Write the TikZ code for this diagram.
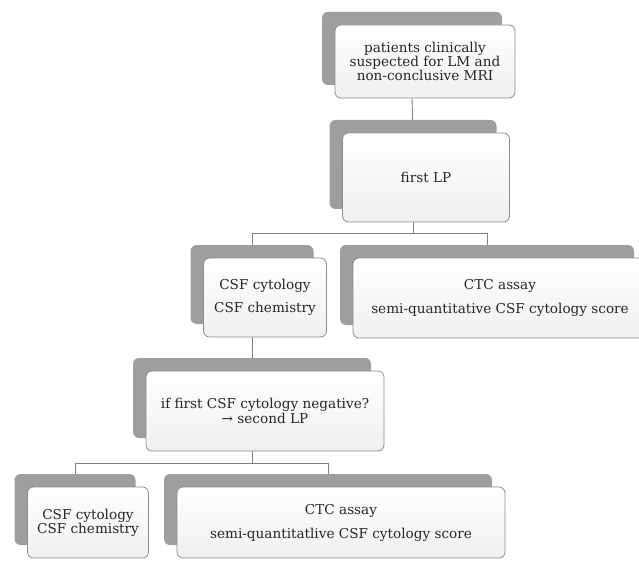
\documentclass[tikz,border=0pt]{standalone}
\usepackage{fontspec}
\setmainfont{DejaVu Serif}
\usetikzlibrary{shadows}
\pgfdeclarelayer{background}
\pgfsetlayers{background,main}
\tikzset{
  box/.style={draw=black!45, line width=0.8pt, rounded corners=6pt,
    top color=white, bottom color=black!6, align=center, inner sep=2pt,
    text=black!85, font=\fontsize{13.6}{14.5}\selectfont,
    general shadow={shadow xshift=-13pt, shadow yshift=13pt, fill=black!38}},
  conn/.style={draw=black!50, line width=0.9pt}
}
\begin{document}
\begin{tikzpicture}[x=1pt,y=-1pt]
\useasboundingbox (0,0) rectangle (639,561);
\clip (0,0) rectangle (639,561);
% boxes
\node[box, minimum width=180pt, minimum height=73pt] (top) at (425,61.5)
  {patients clinically\\[-0.5pt]suspected for LM and\\[-0.5pt]non-conclusive MRI};
\node[box, minimum width=167pt, minimum height=89pt] (lp1) at (426,177.5) {first LP};
\node[box, minimum width=123pt, minimum height=79pt] (csf1) at (265,297.5)
  {CSF cytology\\[8.5pt]CSF chemistry};
\node[box, minimum width=294pt, minimum height=80pt] (ctc1) at (500,298)
  {CTC assay\\[9.5pt]semi-quantitative CSF cytology score};
\node[box, minimum width=238pt, minimum height=80pt] (lp2) at (265,411)
  {if first CSF cytology negative?\\→ second LP};
\node[box, minimum width=121pt, minimum height=71pt] (csf2) at (88,522.5)
  {CSF cytology\\[-0.5pt]CSF chemistry};
\node[box, minimum width=328pt, minimum height=71pt] (ctc2) at (341,522.5)
  {CTC assay\\[9.5pt]semi-quantitatlive CSF cytology score};
% connectors
\begin{pgfonlayer}{background}
\draw[conn] ([xshift=-13pt]top.south) -- ([xshift=-13pt]lp1.north);
\draw[conn] ([xshift=-13pt]lp1.south) -- ([xshift=-13pt,yshift=-11pt]lp1.south) coordinate (j1);
\draw[conn] ([xshift=-13pt]csf1.north) |- (j1) -| ([xshift=-13pt]ctc1.north);
\draw[conn] ([xshift=-13pt]csf1.south) -- ([xshift=-13pt]lp2.north);
\draw[conn] ([xshift=-13pt]lp2.south) -- ([xshift=-13pt,yshift=-12pt]lp2.south) coordinate (j2);
\draw[conn] ([xshift=-13pt]csf2.north) |- (j2) -| ([xshift=-13pt]ctc2.north);
\end{pgfonlayer}
\end{tikzpicture}
\end{document}
